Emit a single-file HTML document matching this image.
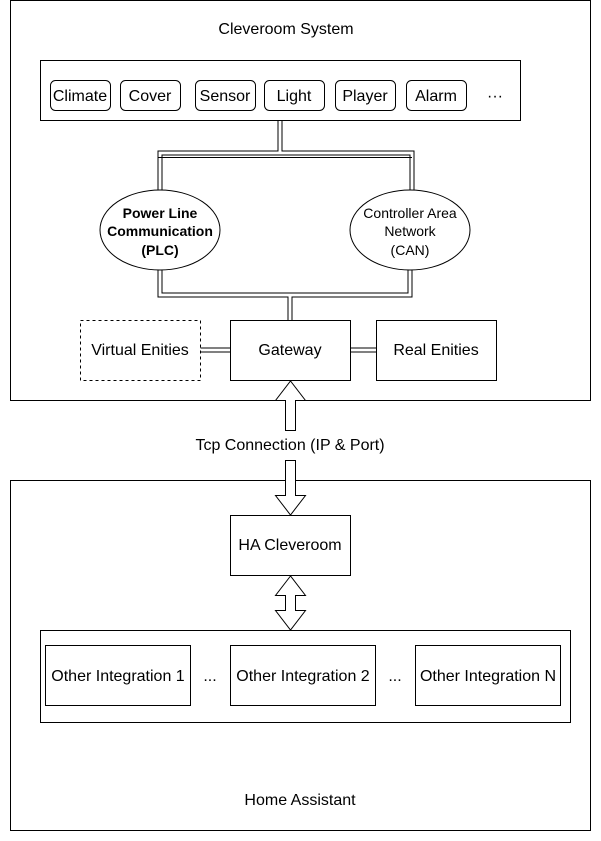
<!DOCTYPE html>
<html><head><style>body{margin:0;background:#fff}svg{display:block}text{font-family:"Liberation Sans",Arial,sans-serif;font-size:16px;fill:#000}</style></head><body>
<svg width="601" height="841" xmlns="http://www.w3.org/2000/svg">
<rect width="601" height="841" fill="#fff"/>
<g fill="none" stroke="#000" stroke-width="1">
<rect x="10.5" y="0.5" width="580" height="400"/>
<rect x="10.5" y="480.5" width="580" height="350"/>
<rect x="40.5" y="60.5" width="480" height="60"/>
<rect x="50.5" y="80.5" width="60" height="30" rx="5"/>
<rect x="120.5" y="80.5" width="60" height="30" rx="5"/>
<rect x="195.5" y="80.5" width="60" height="30" rx="5"/>
<rect x="264.5" y="80.5" width="60" height="30" rx="5"/>
<rect x="335.5" y="80.5" width="60" height="30" rx="5"/>
<rect x="406.5" y="80.5" width="60" height="30" rx="5"/>
</g>
<g fill="none" stroke="#000" stroke-width="5">
<path d="M280 121V153M160 190V153H412V190M160 270V295H410V270M290 295V320M200 350H230M350 350H376"/>
</g>
<g fill="none" stroke="#fff" stroke-width="3">
<path d="M280 121V153M160 190V153H412V190M160 270V295H410V270M290 295V320M200 350H230M350 350H376"/>
</g>
<path d="M158.5 157.5H412" stroke="#000"/>
<g fill="#fff" stroke="#000" stroke-width="1">
<ellipse cx="160" cy="230" rx="60" ry="40"/>
<ellipse cx="410" cy="230" rx="60" ry="40"/>
<rect x="80.5" y="320.5" width="120" height="60" stroke-dasharray="3,3"/>
<rect x="230.5" y="320.5" width="120" height="60"/>
<rect x="376.5" y="320.5" width="120" height="60"/>
<path d="M285.5 430.5V400.5H275.5L290.5 381L305.5 400.5H295.5V430.5Z"/>
<path d="M285.5 460.5V495.5H275.5L290.5 515L305.5 495.5H295.5V460.5Z"/>
<rect x="230.5" y="515.5" width="120" height="60"/>
<path d="M290.5 576L275.5 595.5H285.5V610.5H275.5L290.5 630L305.5 610.5H295.5V595.5H305.5Z"/>
<rect x="40.5" y="630.5" width="530" height="92"/>
<rect x="45.5" y="645.5" width="145" height="60"/>
<rect x="230.5" y="645.5" width="145" height="60"/>
<rect x="415.5" y="645.5" width="145" height="60"/>
</g>
<g text-anchor="middle">
<text x="286" y="34">Cleveroom System</text>
<text x="80" y="101">Climate</text><text x="150" y="101">Cover</text><text x="225" y="101">Sensor</text><text x="294" y="101">Light</text><text x="365" y="101">Player</text><text x="436" y="101">Alarm</text><text x="495" y="101">···</text>
<text x="160" y="218" style="font-size:14px;font-weight:bold">Power Line</text>
<text x="160" y="236" style="font-size:14px;font-weight:bold">Communication</text>
<text x="160" y="255" style="font-size:14px;font-weight:bold">(PLC)</text>
<text x="410" y="218" style="font-size:14px">Controller Area</text>
<text x="410" y="236" style="font-size:14px">Network</text>
<text x="410" y="255" style="font-size:14px">(CAN)</text>
<text x="140" y="355">Virtual Enities</text>
<text x="290" y="355">Gateway</text>
<text x="436" y="355">Real Enities</text>
<text x="290" y="450">Tcp Connection (IP &amp; Port)</text>
<text x="290" y="550">HA Cleveroom</text>
<text x="118" y="681">Other Integration 1</text>
<text x="210" y="681">...</text>
<text x="303" y="681">Other Integration 2</text>
<text x="395" y="681">...</text>
<text x="488" y="681">Other Integration N</text>
<text x="300" y="805">Home Assistant</text>
</g>
</svg>
</body></html>
